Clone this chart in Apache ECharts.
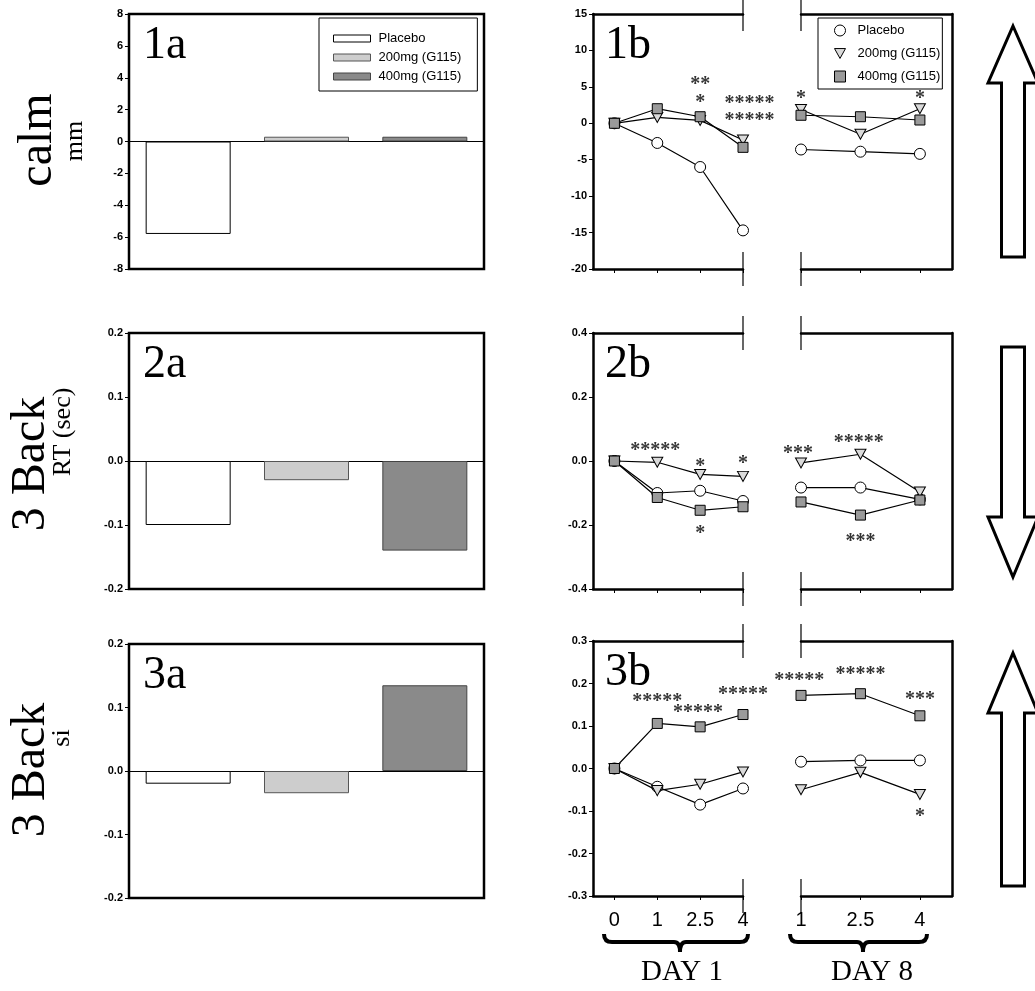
<!DOCTYPE html>
<html><head><meta charset="utf-8">
<script src="https://cdn.jsdelivr.net/npm/echarts@6/dist/echarts.min.js"></script>
<style>html,body{margin:0;padding:0;background:#fff}#c{width:1035px;height:991px}</style>
</head><body><div id="c"></div>
<script>
// ---------- DATA ----------
const groups = ['Placebo', '200mg (G115)', '400mg (G115)'];
const calmBars = [-5.8, 0.3, 0.3];
const rtBars = [-0.10, -0.03, -0.14];
const siBars = [-0.02, -0.035, 0.135];

const day1Ticks = ['0', '1', '2.5', '4'];
const day8Ticks = ['1', '2.5', '4'];

const calmDay1Placebo = [0, -2.7, -6.0, -14.7];
const calmDay1Low = [0, 0.8, 0.4, -2.3];
const calmDay1High = [0, 2.0, 0.9, -3.3];
const calmDay8Placebo = [-3.6, -3.9, -4.2];
const calmDay8Low = [1.9, -1.5, 2.0];
const calmDay8High = [1.1, 0.9, 0.45];

const rtDay1Placebo = [0, -0.10, -0.093, -0.125];
const rtDay1Low = [0, -0.004, -0.042, -0.048];
const rtDay1High = [0, -0.114, -0.154, -0.143];
const rtDay8Placebo = [-0.083, -0.083, -0.12];
const rtDay8Low = [-0.006, 0.021, -0.097];
const rtDay8High = [-0.128, -0.169, -0.122];

const siDay1Placebo = [0, -0.043, -0.085, -0.047];
const siDay1Low = [0, -0.052, -0.037, -0.008];
const siDay1High = [0, 0.106, 0.098, 0.127];
const siDay8Placebo = [0.016, 0.019, 0.019];
const siDay8Low = [-0.05, -0.009, -0.061];
const siDay8High = [0.172, 0.176, 0.124];

// significance marks: [x index, y value, text]
const calmStarsDay1 = [[2, 5.8, '**'], [2, 3.3, '*'], [3.15, 3.2, '*****'], [3.15, 0.9, '*****']];
const calmStarsDay8 = [[0, 3.9, '*'], [2, 3.9, '*']];
const rtStarsDay1 = [[0.95, 0.045, '*****'], [2, -0.007, '*'], [3, 0.003, '*'], [2, -0.216, '*']];
const rtStarsDay8 = [[-0.05, 0.034, '***'], [0.97, 0.068, '*****'], [1, -0.24, '***']];
const siStarsDay1 = [[1, 0.167, '*****'], [1.95, 0.141, '*****'], [3, 0.182, '*****']];
const siStarsDay8 = [[-0.03, 0.215, '*****'], [1, 0.229, '*****'], [2, 0.172, '***'], [2, -0.104, '*']];

const aYMin = [-8, -0.2, -0.2], aYMax = [8, 0.2, 0.2], aYStep = [2, 0.1, 0.1];
const bYMin = [-20, -0.4, -0.3], bYMax = [15, 0.4, 0.3], bYStep = [5, 0.2, 0.1];

const panelLabelsA = ['1a', '2a', '3a'];
const panelLabelsB = ['1b', '2b', '3b'];
const rowTitles = ['calm', '3 Back', '3 Back'];
const rowSubtitles = ['mm', 'RT (sec)', 'si'];
const dayLabels = ['DAY 1', 'DAY 8'];

// ---------- LAYOUT / STYLE ----------
const rowsA = [[14, 269], [333, 589], [644, 898]];
const rowsB = [[14, 269], [333, 589], [641, 896]];
const XA = [129, 484], XB1 = [593, 743], XB2 = [801, 952];
const SANS = 'Liberation Sans, Arial, sans-serif';
const SERIF = 'Liberation Serif, Times New Roman, serif';
const barFill = ['#ffffff', '#cdcdcd', '#8a8a8a'];
const barBorder = ['#000', '#555', '#444'];
const symFill = ['#ffffff', '#dadada', '#9a9a9a'];
const syms = ['circle', 'path://M0,0L10,0L5,9Z', 'rect'];
const symSizes = [11, [11, 10], 10];

const barsByRow = [calmBars, rtBars, siBars];
const day1ByRow = [[calmDay1Placebo, calmDay1Low, calmDay1High], [rtDay1Placebo, rtDay1Low, rtDay1High], [siDay1Placebo, siDay1Low, siDay1High]];
const day8ByRow = [[calmDay8Placebo, calmDay8Low, calmDay8High], [rtDay8Placebo, rtDay8Low, rtDay8High], [siDay8Placebo, siDay8Low, siDay8High]];
const stars1ByRow = [calmStarsDay1, rtStarsDay1, siStarsDay1];
const stars8ByRow = [calmStarsDay8, rtStarsDay8, siStarsDay8];

const grids = [], xAxes = [], yAxes = [], series = [], graphics = [];
const tickLab = { color: '#000', fontSize: 11, fontWeight: 'bold', fontFamily: SANS, margin: 6 };
function fmt(r) { return v => r === 0 ? String(v) : (Math.abs(v) < 1e-9 ? '0.0' : v.toFixed(1)); }
const black2 = { color: '#000', width: 2.5 };

for (let r = 0; r < 3; r++) {
  // ----- a panel (bars)
  const ga = grids.length;
  grids.push({ left: XA[0], top: rowsA[r][0], width: XA[1] - XA[0], height: rowsA[r][1] - rowsA[r][0], show: true, borderColor: '#000', borderWidth: 2.5, backgroundColor: 'transparent' });
  const xa = xAxes.length;
  xAxes.push({ type: 'category', gridIndex: ga, data: groups, axisLine: { onZero: true, lineStyle: { color: '#000', width: 1 } }, axisTick: { show: false }, axisLabel: { show: false } });
  const ya = yAxes.length;
  yAxes.push({ type: 'value', gridIndex: ga, min: aYMin[r], max: aYMax[r], interval: aYStep[r], axisLine: { show: false }, axisTick: { show: true, length: 4, lineStyle: { color: '#000' } }, splitLine: { show: false }, axisLabel: Object.assign({ formatter: fmt(r) }, tickLab) });
  groups.forEach((g, k) => {
    series.push({ type: 'bar', name: g, xAxisIndex: xa, yAxisIndex: ya, barWidth: 85, barGap: '-100%',
      data: groups.map((_, j) => j === k ? barsByRow[r][k] : '-'),
      itemStyle: { color: barFill[k], borderColor: barBorder[k], borderWidth: 1 } });
  });

  // ----- b panel (two sections)
  const sections = [
    { X: XB1, min: -0.5, max: 3, vals: [0, 1, 2, 3], ticks: day1Ticks, data: day1ByRow[r], stars: stars1ByRow[r], ypos: 'left' },
    { X: XB2, min: 0, max: 2.54, vals: [0, 1, 2], ticks: day8Ticks, data: day8ByRow[r], stars: stars8ByRow[r], ypos: 'right' }
  ];
  sections.forEach(s => {
    const gb = grids.length;
    grids.push({ left: s.X[0], top: rowsB[r][0], width: s.X[1] - s.X[0], height: rowsB[r][1] - rowsB[r][0] });
    const xb = xAxes.length;
    xAxes.push({ type: 'value', gridIndex: gb, min: s.min, max: s.max, position: 'bottom', splitLine: { show: false },
      axisLine: { onZero: false, lineStyle: black2 },
      axisTick: { show: true, customValues: s.vals, length: 4, lineStyle: { color: '#000', width: 1 } },
      axisLabel: { show: r === 2, customValues: s.vals, formatter: v => s.ticks[Math.round(v)], color: '#000', fontSize: 20, fontFamily: SANS, margin: 14 } });
    xAxes.push({ type: 'value', gridIndex: gb, min: s.min, max: s.max, position: 'top', splitLine: { show: false },
      axisLine: { onZero: false, lineStyle: black2 }, axisTick: { show: false }, axisLabel: { show: false } });
    const yb = yAxes.length;
    if (s.ypos === 'left') {
      yAxes.push({ type: 'value', gridIndex: gb, min: bYMin[r], max: bYMax[r], interval: bYStep[r], position: 'left',
        axisLine: { show: true, onZero: false, lineStyle: black2 }, axisTick: { show: true, length: 4, lineStyle: { color: '#000', width: 1 } },
        splitLine: { show: false }, axisLabel: Object.assign({ formatter: fmt(r) }, tickLab) });
    } else {
      yAxes.push({ type: 'value', gridIndex: gb, min: bYMin[r], max: bYMax[r], interval: bYStep[r], position: 'right',
        axisLine: { show: true, onZero: false, lineStyle: black2 }, axisTick: { show: false }, splitLine: { show: false }, axisLabel: { show: false } });
    }
    groups.forEach((g, k) => {
      series.push({ type: 'line', name: g, xAxisIndex: xb, yAxisIndex: yb, clip: false, z: 3 + k,
        data: s.data[k].map((v, i) => [i, v]), symbol: syms[k], symbolSize: symSizes[k], showSymbol: true,
        lineStyle: { color: '#000', width: 1.2 },
        itemStyle: { color: symFill[k], borderColor: '#000', borderWidth: 1, opacity: 1 } });
    });
    series.push({ type: 'scatter', xAxisIndex: xb, yAxisIndex: yb, clip: false, silent: true, z: 10,
      data: s.stars, symbolSize: 1, itemStyle: { color: 'rgba(0,0,0,0)' },
      label: { show: true, position: 'inside', formatter: p => p.data[2], color: '#000', fontSize: 20, fontWeight: 'bold', fontFamily: SERIF, offset: [0, 4] } });
  });

  // panel labels
  graphics.push({ type: 'text', style: { text: panelLabelsA[r], x: XA[0] + 14, y: rowsA[r][0] + 32, fontSize: 46, fontFamily: SERIF, fill: '#000', verticalAlign: 'middle' } });
  graphics.push({ type: 'text', style: { text: panelLabelsB[r], x: XB1[0] + 12, y: rowsB[r][0] + 32, fontSize: 46, fontFamily: SERIF, fill: '#000', verticalAlign: 'middle' } });

  // break marks
  [XB1[1], XB2[0]].forEach(x => {
    [rowsB[r][0], rowsB[r][1]].forEach(y => {
      graphics.push({ type: 'line', shape: { x1: x, y1: y - 17, x2: x, y2: y + 17 }, style: { stroke: '#000', lineWidth: 1.2 } });
    });
  });
}

// row titles
const titleX = [38, 31, 31], titleY = [140, 464, 770], subY = [141, 432, 738], subX = [75, 63, 62];
for (let r = 0; r < 3; r++) {
  graphics.push({ type: 'text', x: titleX[r], y: titleY[r], rotation: Math.PI / 2, style: { text: rowTitles[r], fontSize: 48, fontFamily: SERIF, fill: '#000', align: 'center', verticalAlign: 'middle' } });
  graphics.push({ type: 'text', x: subX[r], y: subY[r], rotation: Math.PI / 2, style: { text: rowSubtitles[r], fontSize: 26, fontFamily: SERIF, fill: '#000', align: 'center', verticalAlign: 'middle' } });
}

// arrows
function arrow(tipY, baseY, endY) {
  const cx = 1013, hw = 25, sw = 11.5;
  return { type: 'polygon', shape: { points: [[cx, tipY], [cx + hw, baseY], [cx + sw, baseY], [cx + sw, endY], [cx - sw, endY], [cx - sw, baseY], [cx - hw, baseY]] },
    style: { fill: '#fff', stroke: '#000', lineWidth: 3 } };
}
graphics.push(arrow(26, 83, 257));
graphics.push(arrow(577, 517, 347));
graphics.push(arrow(653, 713, 886));

// braces + day labels
function brace(x0, x1, xm, y) {
  const st = { stroke: '#000', lineWidth: 4, fill: 'none' };
  return [
    { type: 'bezierCurve', shape: { x1: x0, y1: y - 8, cpx1: x0, cpy1: y, x2: x0 + 8, y2: y }, style: st },
    { type: 'line', shape: { x1: x0 + 8, y1: y, x2: xm - 6, y2: y }, style: st },
    { type: 'bezierCurve', shape: { x1: xm - 6, y1: y, cpx1: xm, cpy1: y, x2: xm, y2: y + 10 }, style: st },
    { type: 'bezierCurve', shape: { x1: xm, y1: y + 10, cpx1: xm, cpy1: y, x2: xm + 6, y2: y }, style: st },
    { type: 'line', shape: { x1: xm + 6, y1: y, x2: x1 - 8, y2: y }, style: st },
    { type: 'bezierCurve', shape: { x1: x1 - 8, y1: y, cpx1: x1, cpy1: y, x2: x1, y2: y - 8 }, style: st }
  ];
}
graphics.push(...brace(604, 748, 680, 942));
graphics.push(...brace(790, 927, 863, 942));
graphics.push({ type: 'text', style: { text: dayLabels[0], x: 682, y: 972, fontSize: 29, fontFamily: SERIF, fill: '#000', align: 'center', verticalAlign: 'middle' } });
graphics.push({ type: 'text', style: { text: dayLabels[1], x: 872, y: 972, fontSize: 29, fontFamily: SERIF, fill: '#000', align: 'center', verticalAlign: 'middle' } });

const legends = [
  { left: 319, top: 18, orient: 'vertical', selectedMode: false, padding: [14, 16, 8, 14], itemWidth: 37, itemHeight: 7, itemGap: 6,
    borderColor: '#000', borderWidth: 1, textStyle: { fontSize: 13, fontFamily: SANS, color: '#000', padding: [0, 0, 0, 3] },
    data: groups.map((g, k) => ({ name: g, icon: 'rect', itemStyle: { color: barFill[k], borderColor: barBorder[k], borderWidth: 1 } })) },
  { left: 818, top: 18, orient: 'vertical', selectedMode: false, padding: [6, 2, 6, 16], itemWidth: 11, itemHeight: 11, itemGap: 10,
    borderColor: '#000', borderWidth: 1, textStyle: { fontSize: 13, fontFamily: SANS, color: '#000', padding: [0, 0, 0, 7] },
    data: groups.map((g, k) => ({ name: g, icon: syms[k], itemStyle: { color: symFill[k], borderColor: '#000', borderWidth: 1 } })) }
];

const chart = echarts.init(document.getElementById('c'), null, { renderer: 'canvas' });
chart.setOption({
  animation: false,
  backgroundColor: '#fff',
  grid: grids, xAxis: xAxes, yAxis: yAxes, series: series, legend: legends, graphic: graphics
});
</script></body></html>
